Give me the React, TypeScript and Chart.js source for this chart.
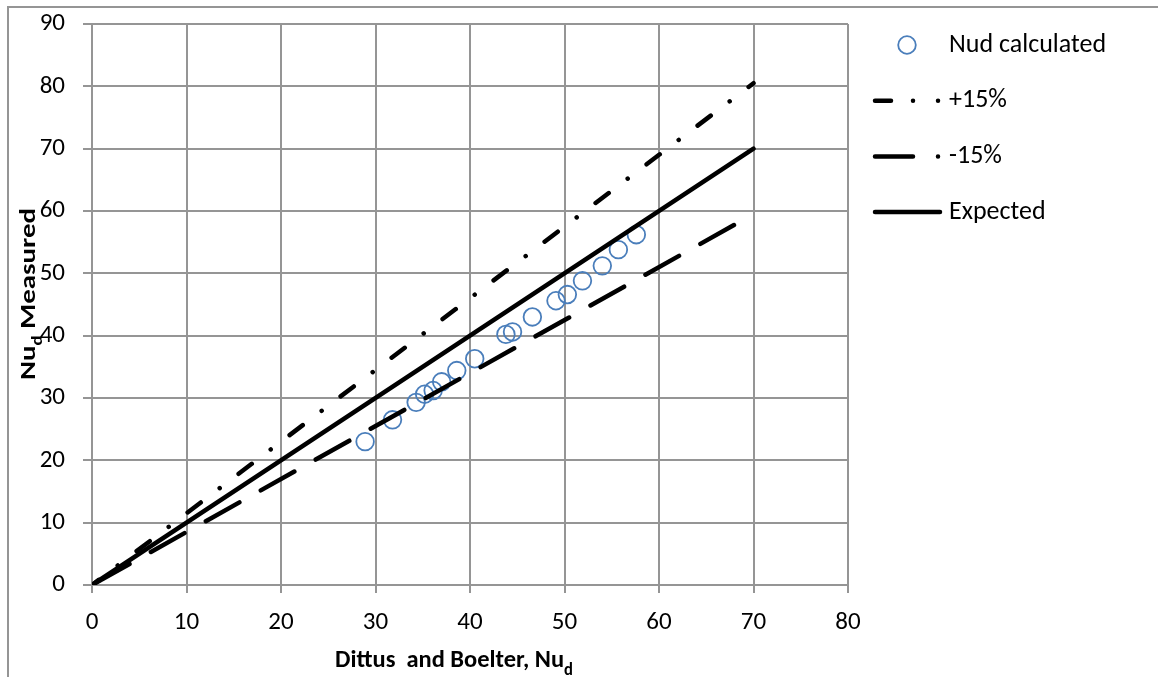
import { useEffect, useRef } from "react";
import { Chart, registerables } from "chart.js";

Chart.register(...registerables);

// Nusselt number: Dittus–Boelter prediction (x) against measured value (y)
const dittusBoelterNu = [28.9, 31.8, 34.3, 35.2, 36.1, 37.0, 38.6, 40.5, 43.8, 44.5, 46.6, 49.1, 50.3, 51.9, 54.0, 55.7, 57.6];
const measuredNu = [23.0, 26.5, 29.3, 30.6, 31.2, 32.6, 34.4, 36.3, 40.2, 40.6, 43.0, 45.6, 46.6, 48.8, 51.2, 53.8, 56.2];

// Reference lines (end points)
const refX = [0, 70];
const plus15Y = [0, 80.5];
const minus15Y = [0, 59.5];
const expectedY = [0, 70];

// Axis ticks
const xTickValues = [0, 10, 20, 30, 40, 50, 60, 70, 80];
const yTickValues = [0, 10, 20, 30, 40, 50, 60, 70, 80, 90];

const FONT = "Carlito, Lato, 'Noto Sans', sans-serif";
const GRID = "#959595";

const toPoints = (xs: number[], ys: number[]) => xs.map((x, i) => ({ x, y: ys[i] }));

// Outer frame of the chart area (left and top edges)
const framePlugin = {
  id: "frame",
  beforeDraw(chart: any) {
    const { ctx, width, height } = chart;
    ctx.save();
    ctx.strokeStyle = GRID;
    ctx.lineWidth = 2;
    ctx.beginPath();
    ctx.moveTo(8, height);
    ctx.lineTo(8, 7);
    ctx.lineTo(width, 7);
    ctx.stroke();
    ctx.restore();
  },
};

// Text with a subscript part, laid out left to right from (0, 0)
const subscriptParts = (main: string, sub: string, rest: string) => [
  { text: main, size: 1, dy: 0 },
  { text: sub, size: 0.66, dy: 0.3 },
  { text: rest, size: 1, dy: 0 },
];

const measureParts = (ctx: any, parts: any[], size: number) =>
  parts.reduce((w, p) => {
    ctx.font = `bold ${Math.round(size * p.size)}px ${FONT}`;
    return w + ctx.measureText(p.text).width;
  }, 0);

const drawParts = (ctx: any, parts: any[], size: number) => {
  let cx = 0;
  parts.forEach((p) => {
    ctx.font = `bold ${Math.round(size * p.size)}px ${FONT}`;
    ctx.fillText(p.text, cx, p.dy * size);
    cx += ctx.measureText(p.text).width;
  });
};

// Draws the parts centred on (cx, baseline) stretched to the given length
const drawTitle = (ctx: any, parts: any[], size: number, length: number, cx: number, cy: number, angle: number) => {
  const w = measureParts(ctx, parts, size);
  const k = length / w;
  ctx.save();
  ctx.translate(cx, cy);
  ctx.rotate(angle);
  ctx.scale(k, 1);
  ctx.translate(-w / 2, 0);
  drawParts(ctx, parts, size);
  ctx.restore();
};

const axisTitlePlugin = {
  id: "axisTitles",
  afterDraw(chart: any) {
    const { ctx } = chart;
    ctx.save();
    ctx.fillStyle = "#000";
    ctx.textAlign = "left";
    ctx.textBaseline = "alphabetic";
    drawTitle(ctx, subscriptParts("Dittus  and Boelter, Nu", "d", ""), 25, 238, 454, 667, 0);
    drawTitle(ctx, subscriptParts("Nu", "d", " Measured"), 23, 172, 35, 294, -Math.PI / 2);
    ctx.restore();
  },
};

// Legend on the right, drawn from the datasets' own styles
const sideLegendPlugin = {
  id: "sideLegend",
  afterDraw(chart: any, _args: any, o: any) {
    const { ctx } = chart;
    chart.data.datasets.forEach((ds: any, i: number) => {
      const y = o.top + i * o.step;
      ctx.save();
      if (ds.showLine === false) {
        ctx.beginPath();
        ctx.arc(o.markerX, y, ds.pointRadius, 0, Math.PI * 2);
        ctx.lineWidth = ds.pointBorderWidth;
        ctx.strokeStyle = ds.pointBorderColor;
        ctx.stroke();
      } else {
        ctx.beginPath();
        ctx.setLineDash(ds.legendDash || []);
        ctx.lineCap = "round";
        ctx.lineWidth = ds.borderWidth;
        ctx.strokeStyle = ds.borderColor;
        ctx.moveTo(o.lineStart, y);
        ctx.lineTo(ds.legendDash ? o.lineEnd : o.lineEnd + 1, y);
        ctx.stroke();
        ctx.setLineDash([]);
      }
      ctx.fillStyle = "#000";
      ctx.font = `26px ${FONT}`;
      ctx.textAlign = "left";
      ctx.textBaseline = "middle";
      ctx.fillText(ds.label, o.textX, y);
      ctx.restore();
    });
  },
};

export default function App() {
  const canvasRef = useRef<HTMLCanvasElement | null>(null);

  useEffect(() => {
    if (!canvasRef.current) return;
    const chart = new Chart(canvasRef.current, {
      type: "scatter",
      data: {
        datasets: [
          {
            label: "Nud calculated",
            data: toPoints(dittusBoelterNu, measuredNu),
            showLine: false,
            pointRadius: 8.8,
            pointBorderWidth: 1.8,
            pointBorderColor: "#4a7ebb",
            pointBackgroundColor: "rgba(0,0,0,0)",
            order: 5,
          } as any,
          {
            label: "+15%",
            data: toPoints(refX, plus15Y),
            showLine: true,
            borderColor: "#000",
            borderWidth: 4.5,
            borderDash: [16.5, 23.75, 0.01, 23.75],
            borderDashOffset: 8,
            borderCapStyle: "round",
            pointRadius: 0,
            legendDash: [16, 22, 0.01, 25, 0.01],
            order: 1,
          } as any,
          {
            label: "-15%",
            data: toPoints(refX, minus15Y),
            showLine: true,
            borderColor: "#000",
            borderWidth: 4.5,
            borderDash: [38.5, 24.5],
            borderDashOffset: 58.5,
            borderCapStyle: "round",
            pointRadius: 0,
            legendDash: [38, 25, 0.01],
            order: 2,
          } as any,
          {
            label: "Expected",
            data: toPoints(refX, expectedY),
            showLine: true,
            borderColor: "#000",
            borderWidth: 4.5,
            borderCapStyle: "round",
            pointRadius: 0,
            order: 3,
          } as any,
        ],
      },
      options: {
        responsive: false,
        animation: false,
        layout: { padding: { top: 24, right: 310, left: 0, bottom: 0 } },
        scales: {
          x: {
            type: "linear",
            min: 0,
            max: 80,
            afterBuildTicks: (s: any) => {
              s.ticks = xTickValues.map((value) => ({ value }));
            },
            afterFit: (s: any) => {
              s.height = 92;
              s.paddingLeft = 0;
              s.paddingRight = 0;
            },
            grid: { color: GRID, lineWidth: 2, tickLength: 8, tickColor: GRID },
            border: { color: GRID, width: 2 },
            ticks: { color: "#000", padding: 15, font: { family: FONT, size: 25 }, maxRotation: 0 },
          },
          y: {
            type: "linear",
            min: 0,
            max: 90,
            afterBuildTicks: (s: any) => {
              s.ticks = yTickValues.map((value) => ({ value }));
            },
            afterFit: (s: any) => {
              s.width = 92;
              s.paddingTop = 0;
              s.paddingBottom = 0;
            },
            grid: { color: GRID, lineWidth: 2, tickLength: 9, tickColor: GRID },
            border: { color: GRID, width: 2 },
            ticks: { color: "#000", padding: 18, font: { family: FONT, size: 25 } },
          },
        },
        plugins: {
          legend: { display: false },
          tooltip: { enabled: false },
          sideLegend: {
            top: 45,
            step: 55.7,
            markerX: 907,
            lineStart: 875,
            lineEnd: 939,
            textX: 949,
          },
        } as any,
      },
      plugins: [framePlugin, axisTitlePlugin, sideLegendPlugin],
    });
    return () => chart.destroy();
  }, []);

  return (
    <div style={{ position: "absolute", left: 0, top: 0, width: 1158, height: 677, background: "#fff" }}>
      <canvas ref={canvasRef} width={1158} height={677} style={{ display: "block" }} />
    </div>
  );
}
